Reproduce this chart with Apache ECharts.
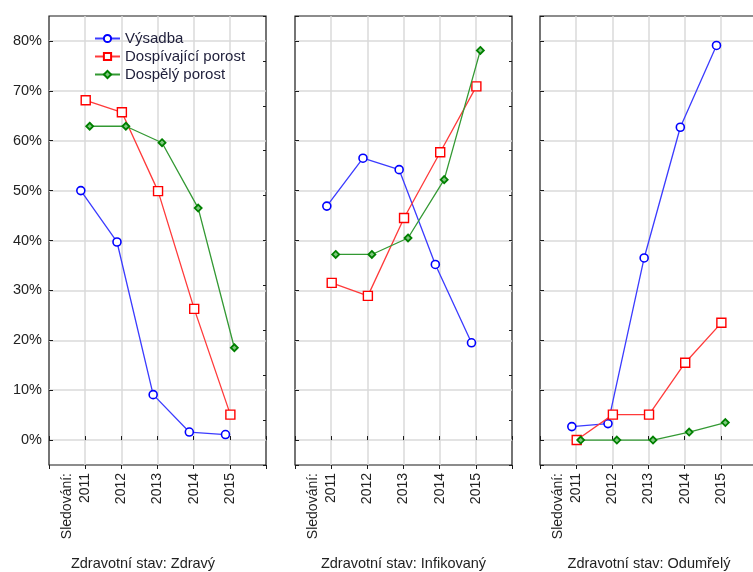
<!DOCTYPE html>
<html>
<head>
<meta charset="utf-8">
<script src="https://cdn.jsdelivr.net/npm/echarts@6/dist/echarts.min.js"></script>
<style>
html, body { margin: 0; padding: 0; background: #fff; }
#chart { width: 753px; height: 572px; }
</style>
</head>
<body>
<div id="chart"></div>
<script>
// Monitoring years (x categories)
const years = [2011, 2012, 2013, 2014, 2015];
const yearLabelPrefix = 'Sledování:';

// Panel captions (health state)
const panelTitles = ['Zdravotní stav: Zdravý', 'Zdravotní stav: Infikovaný', 'Zdravotní stav: Odumřelý'];

// Stand categories (legend)
const seriesNames = ['Výsadba', 'Dospívající porost', 'Dospělý porost'];

// Share of trees in percent, per health state and stand category
const zdravyVysadba      = [50.0, 39.7, 9.1, 1.6, 1.1];
const zdravyDospivajici  = [68.1, 65.7, 49.9, 26.3, 5.1];
const zdravyDospely      = [62.9, 62.9, 59.6, 46.5, 18.5];

const infikVysadba       = [46.9, 56.5, 54.2, 35.2, 19.5];
const infikDospivajici   = [31.5, 28.9, 44.5, 57.7, 70.9];
const infikDospely       = [37.2, 37.2, 40.5, 52.2, 78.1];

const odumrelyVysadba     = [2.7, 3.3, 36.5, 62.7, 79.1];
const odumrelyDospivajici = [0.0, 5.1, 5.1, 15.5, 23.5];
const odumrelyDospely     = [0.0, 0.0, 0.0, 1.6, 3.5];

const panels = [
  [zdravyVysadba, zdravyDospivajici, zdravyDospely],
  [infikVysadba, infikDospivajici, infikDospely],
  [odumrelyVysadba, odumrelyDospivajici, odumrelyDospely]
];

// ---- layout & style ----
const FONT = '"Liberation Sans", Arial, sans-serif';
const TEXT = '#222222';
const GRID_LEFT = [49, 295, 540];
const GRID_TOP = 16;
const GRID_W = 217;
const GRID_H = 449;
const X_MIN = 2010, X_MAX = 2016;
// small horizontal dodge so the three series do not overlap
const dodge = [-0.12, 0.015, 0.125];

const styles = [
  { symbol: 'circle', size: 8, fill: '#ffffff', border: '#0000ff', bw: 1.6, line: '#3b3bff', lw: 1.3 },
  { symbol: 'rect', size: 9, fill: '#ffffff', border: '#ff0000', bw: 1.4, line: '#ff3a3a', lw: 1.3 },
  { symbol: 'diamond', size: 7, fill: '#7fc77f', border: '#008000', bw: 1.8, line: '#339933', lw: 1.3 }
];

const grids = [], xAxes = [], yAxes = [], series = [], graphics = [];

GRID_LEFT.forEach((left, p) => {
  grids.push({
    left: left, top: GRID_TOP, width: GRID_W, height: GRID_H,
    show: true, borderColor: '#1a1a1a', borderWidth: 1.2, backgroundColor: 'transparent',
    containLabel: false, outerBoundsMode: 'none'
  });

  // bottom x axis with year labels
  xAxes.push({
    type: 'value', gridIndex: p, position: 'bottom', min: X_MIN, max: X_MAX, interval: 1,
    axisLine: { show: false },
    axisTick: { show: true, inside: true, length: 4, lineStyle: { color: '#1a1a1a' } },
    axisLabel: {
      rotate: 90, margin: 8, fontSize: 14, fontFamily: FONT, color: TEXT,
      formatter: v => (v > X_MIN && v < X_MAX) ? String(v) : ''
    },
    splitLine: { show: true, showMinLine: false, showMaxLine: false, lineStyle: { color: '#dadada', width: 1.5 } }
  });
  // top x axis: ticks only
  xAxes.push({
    type: 'value', gridIndex: p, position: 'top', min: X_MIN, max: X_MAX, interval: 1,
    axisLine: { show: false },
    axisTick: { show: true, inside: true, length: 4, lineStyle: { color: '#1a1a1a' } },
    axisLabel: { show: false },
    splitLine: { show: false }
  });

  // left y axis in percent
  yAxes.push({
    type: 'value', gridIndex: p, position: 'left', min: -5, max: 85, splitNumber: 9,
    axisLine: { show: false },
    axisTick: { show: true, inside: true, length: 4, lineStyle: { color: '#1a1a1a' } },
    axisLabel: {
      show: p === 0, margin: 7, fontSize: 14.5, fontFamily: FONT, color: TEXT,
      showMinLabel: false, showMaxLabel: false,
      formatter: v => (v >= 0 && v <= 80) ? v + '%' : ''
    },
    splitLine: { show: true, showMinLine: false, showMaxLine: false, lineStyle: { color: '#dadada', width: 1.5 } }
  });
  // right y axis: ticks only
  yAxes.push({
    type: 'value', gridIndex: p, position: 'right', min: 0, max: 10, interval: 1,
    axisLine: { show: false },
    axisTick: { show: true, inside: true, length: 3, lineStyle: { color: '#1a1a1a' } },
    axisLabel: { show: false },
    splitLine: { show: false }
  });

  panels[p].forEach((values, s) => {
    const st = styles[s];
    series.push({
      type: 'line', name: seriesNames[s],
      xAxisIndex: 2 * p, yAxisIndex: 2 * p,
      data: years.map((yr, i) => [yr + dodge[s], values[i]]),
      symbol: st.symbol, symbolSize: st.size, showAllSymbol: true,
      itemStyle: { color: st.fill, borderColor: st.border, borderWidth: st.bw },
      lineStyle: { color: st.line, width: st.lw },
      emphasis: { disabled: true },
      clip: false, z: 2 + s, animation: false
    });
  });

  // "Sledování:" caption before the first year label
  graphics.push({
    type: 'text', x: left + 17.7, y: GRID_TOP + GRID_H + 8, rotation: Math.PI / 2,
    style: { text: yearLabelPrefix, fontSize: 14, fontFamily: FONT, fill: TEXT, textAlign: 'right', textVerticalAlign: 'middle' }
  });
});

const titleX = [143, 403.5, 649];
panelTitles.forEach((t, p) => {
  graphics.push({
    type: 'text', x: titleX[p], y: 564,
    style: { text: t, fontSize: 14.5, fontFamily: FONT, fill: TEXT, textAlign: 'center', textVerticalAlign: 'middle' }
  });
});

const chart = echarts.init(document.getElementById('chart'), null, { renderer: 'canvas' });
chart.setOption({
  animation: false,
  backgroundColor: '#ffffff',
  legend: {
    data: seriesNames, orient: 'vertical', left: 94, top: 31, padding: 0,
    itemWidth: 25, itemHeight: 9, itemGap: 3,
    textStyle: { fontSize: 15, fontFamily: FONT, color: '#1e1e3a', lineHeight: 15 },
    selectedMode: false
  },
  grid: grids,
  xAxis: xAxes,
  yAxis: yAxes,
  series: series,
  graphic: graphics
});
</script>
</body>
</html>
